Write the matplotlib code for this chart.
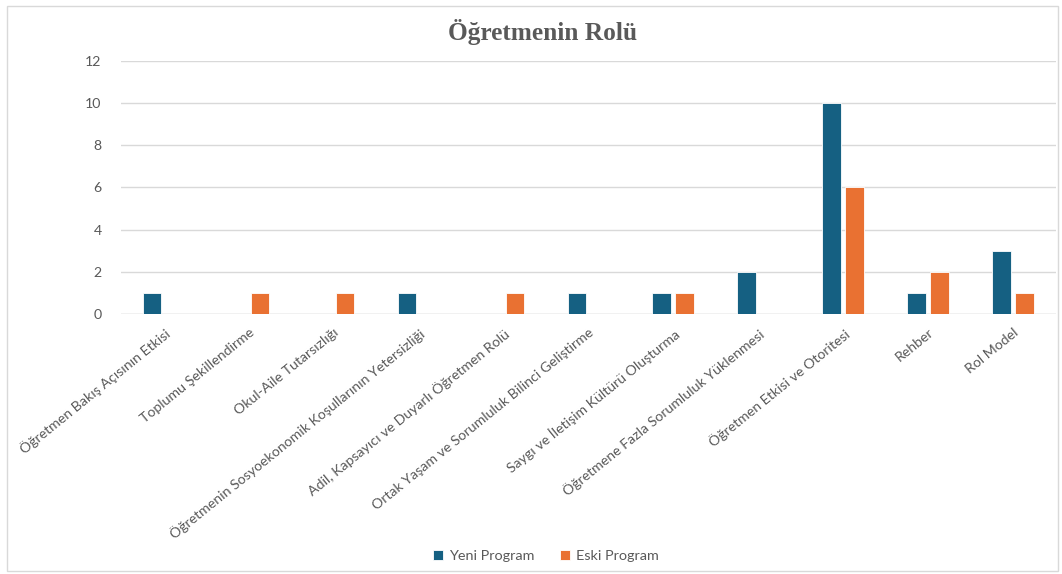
import matplotlib.pyplot as plt
import numpy as np
from matplotlib.patches import Rectangle
from matplotlib.transforms import ScaledTranslation

categories = [
    "Öğretmen Bakış Açısının Etkisi",
    "Toplumu Şekillendirme",
    "Okul-Aile Tutarsızlığı",
    "Öğretmenin Sosyoekonomik Koşullarının Yetersizliği",
    "Adil, Kapsayıcı ve Duyarlı Öğretmen Rolü",
    "Ortak Yaşam ve Sorumluluk Bilinci Geliştirme",
    "Saygı ve İletişim Kültürü Oluşturma",
    "Öğretmene Fazla Sorumluluk Yüklenmesi",
    "Öğretmen Etkisi ve Otoritesi",
    "Rehber",
    "Rol Model",
]
yeni = [1, 0, 0, 1, 0, 1, 1, 2, 10, 1, 3]
eski = [0, 1, 1, 0, 1, 0, 1, 0, 6, 2, 1]

colors = {"yeni": "#156082", "eski": "#E97132", "text": "#595959", "grid": "#D9D9D9"}

plt.rcParams['font.family'] = ['Lato', 'DejaVu Sans']

fig = plt.figure(figsize=(10.62, 5.74), dpi=100)
ax = fig.add_axes([0.114, 0.453, 0.880, 0.441])

x = np.arange(len(categories))
w = 0.22
ax.bar(x - 0.135, yeni, width=w, color=colors["yeni"], edgecolor="white",
       linewidth=0.6, label="Yeni Program", zorder=3)
ax.bar(x + 0.135, eski, width=w, color=colors["eski"], edgecolor="white",
       linewidth=0.6, label="Eski Program", zorder=3)

ax.set_xlim(-0.5, len(categories) - 0.5)
ax.set_ylim(0, 12)
ax.set_yticks(range(0, 13, 2))
ax.yaxis.grid(True, color=colors["grid"], linewidth=1, zorder=0)
for s in ax.spines.values():
    s.set_visible(False)
ax.axhline(0, color=colors["grid"], linewidth=1, zorder=2)
ax.tick_params(axis="both", length=0, colors=colors["text"], labelsize=10.2)
ax.tick_params(axis="y", pad=14)

ax.set_xticks(x)
ax.set_xticklabels(categories, rotation=39, ha="right", va="top",
                   rotation_mode="anchor", fontsize=10.2, color=colors["text"])
shift = ScaledTranslation(-0.04, 0, fig.dpi_scale_trans)
for lbl in ax.get_xticklabels():
    lbl.set_transform(lbl.get_transform() + shift)
ax.tick_params(axis="x", pad=9)

fig.text(0.511, 0.944, "Öğretmenin Rolü", ha="center", va="center",
         family="Liberation Serif", fontweight="bold", fontsize=18.3,
         color=colors["text"])

fig.legend(loc="center", bbox_to_anchor=(0.514, 0.031), ncol=2, frameon=False,
           fontsize=10.4, handlelength=0.7, handleheight=0.7,
           handletextpad=0.4, columnspacing=1.8, labelcolor=colors["text"])

fig.patches.append(Rectangle((0.0066, 0.005), 0.99, 0.984, transform=fig.transFigure,
                             fill=False, edgecolor="#D9D9D9", linewidth=1))

fig.savefig("out.png", dpi=100)
